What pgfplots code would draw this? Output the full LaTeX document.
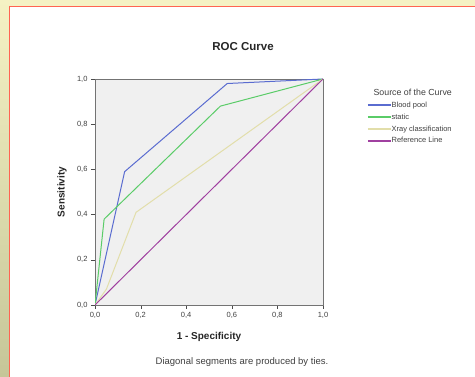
\documentclass[border=0pt]{standalone}
\usepackage{pgfplots}
\pgfplotsset{compat=1.18}
\usepackage{fontspec}
\setmainfont{Liberation Sans}
\definecolor{bgyel}{HTML}{F5F2C4}
\definecolor{bgolive}{HTML}{C6C698}
\definecolor{frred}{HTML}{FF6452}
\definecolor{cblue}{HTML}{5A6CD0}
\definecolor{cgreen}{HTML}{5ACC68}
\definecolor{cxray}{HTML}{E2DEAA}
\definecolor{cref}{HTML}{A040A0}
\definecolor{plotbg}{HTML}{F0F0F0}
\begin{document}
\begin{tikzpicture}
\useasboundingbox (0pt,0pt) rectangle (475pt,377pt);
\fill[bgyel] (0pt,371pt) rectangle (475pt,377pt);
\shade[top color=bgyel, bottom color=bgolive] (0pt,0pt) rectangle (9pt,377pt);
\fill[white] (9.5pt,0pt) rectangle (475pt,370.5pt);
\draw[frred, line width=1pt] (9.5pt,0pt) -- (9.5pt,370.5pt) -- (475pt,370.5pt);
\node[font=\fontsize{11.5}{13}\selectfont\bfseries, text=black!85] at (243pt,330pt) {ROC Curve};
\node[font=\fontsize{9.5}{11}\selectfont, text=black!75] at (242pt,15pt) {Diagonal segments are produced by ties.};
\begin{axis}[
  at={(95pt,72pt)}, anchor=south west,
  scale only axis, width=228pt, height=226pt,
  xmin=0, xmax=1, ymin=0, ymax=1,
  axis background/.style={fill=plotbg},
  axis line style={black!55},
  xtick={0,0.2,0.4,0.6,0.8,1}, ytick={0,0.2,0.4,0.6,0.8,1},
  tick align=outside, major tick length=4pt,
  tick style={black!70},
  xtick pos=bottom, ytick pos=left,
  /pgf/number format/.cd, fixed, fixed zerofill, precision=1, use comma, assume math mode=true,
  /pgfplots/.cd,
  tick label style={font=\fontsize{7.5}{9}\selectfont, text=black!75},
  xlabel={1 - Specificity}, ylabel={Sensitivity},
  label style={font=\fontsize{10}{12}\selectfont\bfseries, text=black!85},
  xlabel style={at={(axis description cs:0.5,-0.142)}, anchor=center},
  ylabel style={at={(axis description cs:-0.145,0.5)}, anchor=center},
  legend style={at={(axis description cs:1.193,0.975)}, anchor=north west, draw=none, fill=none,
    font=\fontsize{7.5}{9}\selectfont, row sep=1pt, inner xsep=0pt},
  legend cell align=left,
  legend image code/.code={\draw[#1, line width=1.4pt] (0pt,0pt) -- (23pt,0pt);},
  every axis legend/.append style={nodes={inner xsep=0pt}},
]
\addlegendimage{empty legend}
\addlegendentry{\hspace{-18pt}\fontsize{8.8}{10}\selectfont\color{black!75}Source of the Curve}
\addplot[cblue, line width=1pt] coordinates {(0,0) (0.13,0.59) (0.58,0.98) (1,1)};
\addlegendentry{\color{black!75}Blood pool}
\addplot[cgreen, line width=1pt] coordinates {(0,0) (0.04,0.38) (0.55,0.88) (1,1)};
\addlegendentry{\color{black!75}static}
\addplot[cxray, line width=1pt] coordinates {(0,0) (0.05,0.07) (0.18,0.41) (1,1)};
\addlegendentry{\color{black!75}Xray classification}
\addplot[cref, line width=1pt] coordinates {(0,0) (1,1)};
\addlegendentry{\color{black!75}Reference Line}
\end{axis}
\end{tikzpicture}
\end{document}
